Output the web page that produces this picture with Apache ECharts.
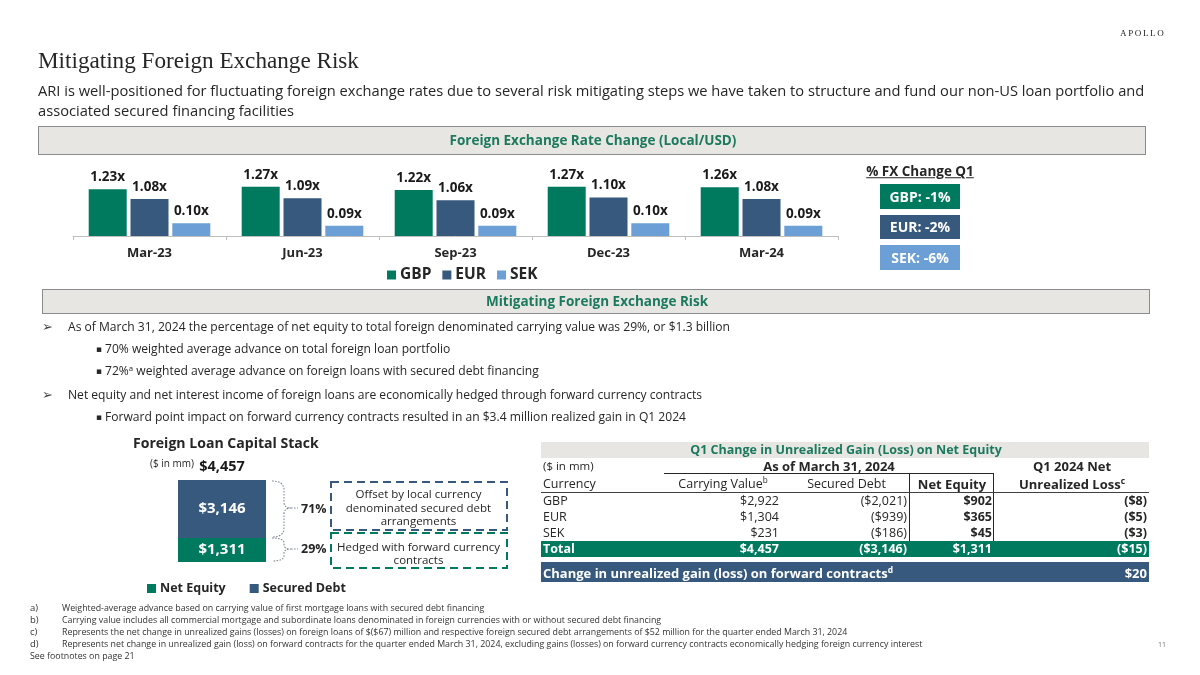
<!DOCTYPE html>
<html><head><meta charset="utf-8">
<script src="https://cdn.jsdelivr.net/npm/echarts@6.0.0/dist/echarts.min.js"></script>
<style>
html,body{margin:0;padding:0;background:#fff;}
#page{position:relative;width:1200px;height:675px;overflow:hidden;font-family:'Open Sans',sans-serif;color:#262626;}
#chart{position:absolute;left:0;top:0;width:1200px;height:675px;}
.t{position:absolute;white-space:nowrap;line-height:1.15;transform:translateY(-50%);}
.r{position:absolute;box-sizing:border-box;}
sup{font-size:65%;line-height:0;vertical-align:0.55em;}
</style>
</head><body>
<div id="page"><div id="chart"></div>
<svg id="ann" width="1200" height="675" style="position:absolute;left:0;top:0;pointer-events:none"></svg>
</div>
<script>
// ---------------- data ----------------
const quarters = ['Mar-23', 'Jun-23', 'Sep-23', 'Dec-23', 'Mar-24'];
const gbpRate = [1.23, 1.27, 1.22, 1.27, 1.26];
const eurRate = [1.08, 1.09, 1.06, 1.10, 1.08];
const sekRate = [0.10, 0.09, 0.09, 0.10, 0.09];
const fxCurrencies = ['GBP', 'EUR', 'SEK'];
const fxChangeQ1 = [-1, -2, -6];

const stackCategory = ['Foreign Loans'];
const netEquityStack = [1311];
const securedDebtStack = [3146];

const tableCurrencies = ['GBP', 'EUR', 'SEK'];
const carryingValue = [2922, 1304, 231];
const securedDebt = [-2021, -939, -186];
const netEquity = [902, 365, 45];
const unrealizedLoss = [-8, -5, -3];
const totalRow = [4457, -3146, 1311, -15];
const fwdContractChange = 20;

// ---------------- styles ----------------
const GREEN = '#007A5E', NAVY = '#36597D', LIGHT = '#6B9FD6', BAND = '#E8E6E3';
const page = document.getElementById('page');
const FONT = "'Open Sans', sans-serif";

function txt(s, x, y, o = {}) {
  const d = document.createElement('div'); d.className = 't'; d.innerHTML = s;
  const st = d.style; st.top = y + 'px';
  if (o.align === 'right') st.right = (1200 - x) + 'px';
  else if (o.align === 'center') { st.left = x + 'px'; st.transform = 'translate(-50%,-50%)'; }
  else st.left = x + 'px';
  if (o.size) st.fontSize = o.size + 'px';
  if (o.bold) st.fontWeight = 'bold';
  if (o.color) st.color = o.color;
  if (o.family) st.fontFamily = o.family;
  if (o.ls) st.letterSpacing = o.ls + 'px';
  if (o.underline) st.textDecoration = 'underline';
  if (o.w) d.dataset.w = o.w;
  if (o.ref) d.dataset.ref = o.ref;
  if (o.id) d.id = o.id;
  page.appendChild(d); return d;
}
function rect(x, y, w, h, bg, border) {
  const d = document.createElement('div'); d.className = 'r';
  Object.assign(d.style, { left: x + 'px', top: y + 'px', width: w + 'px', height: h + 'px', background: bg || 'transparent' });
  if (border) d.style.border = border;
  page.appendChild(d); return d;
}
function money(v) { const s = '$' + Math.abs(v).toLocaleString('en-US'); return v < 0 ? '(' + s + ')' : s; }

// ---------------- header ----------------
txt('APOLLO', 1120, 33, { size: 10.5, family: "'Liberation Serif', serif", ls: 1.6, w: 44 });
txt('Mitigating Foreign Exchange Risk', 38, 60, { size: 26, family: "'Liberation Serif', serif", w: 321 });
txt('ARI is well-positioned for fluctuating foreign exchange rates due to several risk mitigating steps we have taken to structure and fund our non-US loan portfolio and', 38, 90, { size: 16, w: 1107, id: 'sub1' });
txt('associated secured financing facilities', 38, 110, { size: 16, ref: 'sub1' });

rect(38, 126, 1108, 29, BAND, '1.5px solid #8C8C8C');
txt('Foreign Exchange Rate Change (Local/USD)', 593, 140.5, { align: 'center', size: 13.5, bold: true, color: '#1B7A5E' });

// FX change boxes
txt('% FX Change Q1', 920, 172, { align: 'center', size: 13.5, bold: true, underline: true });
const fxColors = [GREEN, NAVY, LIGHT];
fxCurrencies.forEach((c, i) => {
  const y = 184 + i * 30.5;
  rect(880, y, 80, 24.5, fxColors[i]);
  txt(c + ': ' + fxChangeQ1[i] + '%', 920, y + 12.5, { align: 'center', size: 14, bold: true, color: '#fff' });
});

// ---------------- mitigating section ----------------
rect(42, 289, 1108, 25, BAND, '1.5px solid #8C8C8C');
txt('Mitigating Foreign Exchange Risk', 597, 301.5, { align: 'center', size: 13.5, bold: true, color: '#1B7A5E' });

const ARW = "'DejaVu Sans', sans-serif";
txt('&#10146;', 42, 327, { size: 13, family: ARW, color: '#444' });
txt('As of March 31, 2024 the percentage of net equity to total foreign denominated carrying value was 29%, or $1.3 billion', 68, 327, { size: 13, w: 663, id: 'b1' });
txt('&#9642;', 96, 349, { size: 9, family: ARW });
txt('70% weighted average advance on total foreign loan portfolio', 105, 349, { size: 13, ref: 'b1' });
txt('&#9642;', 96, 371, { size: 9, family: ARW });
txt('72%<sup>a</sup> weighted average advance on foreign loans with secured debt financing', 105, 371, { size: 13, ref: 'b1' });
txt('&#10146;', 42, 395, { size: 13, family: ARW, color: '#444' });
txt('Net equity and net interest income of foreign loans are economically hedged through forward currency contracts', 68, 395, { size: 13, ref: 'b1' });
txt('&#9642;', 96, 417, { size: 9, family: ARW });
txt('Forward point impact on forward currency contracts resulted in an $3.4 million realized gain in Q1 2024', 105, 417, { size: 13, ref: 'b1' });

// ---------------- capital stack annotations ----------------
const stackTotal = netEquityStack[0] + securedDebtStack[0];
txt('Foreign Loan Capital Stack', 133, 443, { size: 16.5, bold: true, w: 186 });
txt('($ in mm)', 150, 463.5, { size: 10 });
const pctDebt = Math.round(securedDebtStack[0] / stackTotal * 100);
const pctEq = Math.round(netEquityStack[0] / stackTotal * 100);
txt(pctDebt + '%', 301, 509, { size: 12.5, bold: true });
txt(pctEq + '%', 301, 549, { size: 12.5, bold: true });
txt('Offset by local currency', 418.5, 494, { align: 'center', size: 11.5 });
txt('denominated secured debt', 418.5, 507.5, { align: 'center', size: 11.5 });
txt('arrangements', 418.5, 521, { align: 'center', size: 11.5 });
txt('Hedged with forward currency', 418.5, 546.5, { align: 'center', size: 11.5 });
txt('contracts', 418.5, 560, { align: 'center', size: 11.5 });

const svg = document.getElementById('ann');
svg.innerHTML =
  '<path d="M272,481 Q284,481 284,490 L284,502 Q284,508 291,508 Q284,508 284,514 L284,528 Q284,537 272,537 M291,508 L298,508" fill="none" stroke="#7F8A96" stroke-width="1.1" stroke-dasharray="1.6,1.4"/>' +
  '<path d="M272,538 Q284,538 284,543 L284,545 Q284,549 291,549 Q284,549 284,553 L284,556 Q284,561 272,561 M291,549 L298,549" fill="none" stroke="#7F8A96" stroke-width="1.1" stroke-dasharray="1.6,1.4"/>' +
  '<rect x="331" y="482" width="176" height="48" fill="none" stroke="' + NAVY + '" stroke-width="2" stroke-dasharray="8,5"/>' +
  '<rect x="331" y="533" width="176" height="35" fill="none" stroke="' + GREEN + '" stroke-width="2" stroke-dasharray="8,5"/>';

// ---------------- table ----------------
rect(541, 442, 608, 15.5, BAND);
txt('Q1 Change in Unrealized Gain (Loss) on Net Equity', 846, 449.5, { align: 'center', size: 12.5, bold: true, color: '#1B7A5E' });
txt('($ in mm)', 543, 466, { size: 11.5 });
txt('As of March 31, 2024', 829, 465.5, { align: 'center', size: 13, bold: true });
txt('Q1 2024 Net', 1072, 465.5, { align: 'center', size: 13, bold: true });
rect(664, 472.5, 330, 1.5, '#262626');
rect(908.5, 473, 1.3, 68, '#262626');
rect(993, 473, 1.3, 68, '#262626');
txt('Currency', 543, 484, { size: 12.5 });
txt('Carrying Value<sup>b</sup>', 723, 483.5, { align: 'center', size: 12.5 });
txt('Secured Debt', 846.5, 484, { align: 'center', size: 12.5 });
txt('Net Equity', 952, 483.5, { align: 'center', size: 13, bold: true });
txt('Unrealized Loss<sup>c</sup>', 1072, 483.5, { align: 'center', size: 13, bold: true });
rect(541, 491.5, 608, 1.2, '#404040');
const colR = [779, 907, 992, 1147];
tableCurrencies.forEach((c, i) => {
  const y = 501 + i * 16;
  txt(c, 543, y, { size: 12.5 });
  txt(money(carryingValue[i]), colR[0], y, { align: 'right', size: 12.5 });
  txt(money(securedDebt[i]), colR[1], y, { align: 'right', size: 12.5 });
  txt(money(netEquity[i]), colR[2], y, { align: 'right', size: 12.5, bold: true });
  txt(money(unrealizedLoss[i]), colR[3], y, { align: 'right', size: 12.5, bold: true });
});
rect(541, 541, 608, 15.5, GREEN);
txt('Total', 543, 548.5, { size: 12.5, bold: true, color: '#fff' });
totalRow.forEach((v, j) => txt(money(v), colR[j], 548.5, { align: 'right', size: 12.5, bold: true, color: '#fff' }));
rect(541, 562, 608, 20, NAVY);
txt('Change in unrealized gain (loss) on forward contracts<sup>d</sup>', 543, 572.5, { size: 13, bold: true, color: '#fff' });
txt(money(fwdContractChange), 1147, 572.5, { align: 'right', size: 13, bold: true, color: '#fff' });

// ---------------- footnotes ----------------
const fn = [
  ['a)', 'Weighted-average advance based on carrying value of first mortgage loans with secured debt financing'],
  ['b)', 'Carrying value includes all commercial mortgage and subordinate loans denominated in foreign currencies with or without secured debt financing'],
  ['c)', 'Represents the net change in unrealized gains (losses) on foreign loans of $($67) million and respective foreign secured debt arrangements of $52 million for the quarter ended March 31, 2024'],
  ['d)', 'Represents net change in unrealized gain (loss) on forward contracts for the quarter ended March 31, 2024, excluding gains (losses) on forward currency contracts economically hedging foreign currency interest']
];
fn.forEach((f, i) => {
  const y = 608 + i * 12;
  txt(f[0], 30, y, { size: 9.5, color: '#333' });
  if (i === 3) txt(f[1], 62, y, { size: 9.5, color: '#333', w: 861, id: 'fnd' });
  else txt(f[1], 62, y, { size: 9.5, color: '#333', ref: 'fnd' });
});
txt('See footnotes on page 21', 30, 656, { size: 9.5, color: '#333', ref: 'fnd' });
txt('11', 1158, 645, { size: 7, color: '#777' });

// ---------------- fit text widths ----------------
function fit() {
  document.querySelectorAll('[data-w]').forEach(el => {
    const target = +el.dataset.w;
    const w = el.getBoundingClientRect().width;
    const fs = parseFloat(getComputedStyle(el).fontSize);
    el.style.fontSize = (fs * target / w) + 'px';
  });
  document.querySelectorAll('[data-ref]').forEach(el => {
    const ref = document.getElementById(el.dataset.ref);
    el.style.fontSize = getComputedStyle(ref).fontSize;
  });
}
fit();

// ---------------- charts ----------------
const chart = echarts.init(document.getElementById('chart'), null, { renderer: 'canvas' });
const rateLabel = {
  show: true, position: 'top', distance: 5, color: '#1A1A1A', fontWeight: 'bold', fontSize: 13.5, fontFamily: FONT,
  formatter: p => p.value.toFixed(2) + 'x'
};
chart.setOption({
  animation: false,
  textStyle: { fontFamily: FONT },
  grid: [
    { left: 73, top: 172, width: 765, height: 64 },
    { left: 178, top: 480, width: 88, height: 82 }
  ],
  xAxis: [
    {
      type: 'category', gridIndex: 0, data: quarters,
      axisLine: { lineStyle: { color: '#BFBFBF', width: 1 } },
      axisTick: { show: true, length: 4, lineStyle: { color: '#BFBFBF' } },
      axisLabel: { color: '#262626', fontWeight: 'bold', fontSize: 13, margin: 11, fontFamily: FONT }
    },
    { type: 'category', gridIndex: 1, data: stackCategory, show: false }
  ],
  yAxis: [
    { type: 'value', gridIndex: 0, min: 0.5, max: 1.5, show: false, splitLine: { show: false } },
    { type: 'value', gridIndex: 0, min: 0.05, max: 0.30, show: false, splitLine: { show: false } },
    { type: 'value', gridIndex: 1, min: 0, max: stackTotal, show: false, splitLine: { show: false } }
  ],
  legend: [
    {
      data: ['GBP', 'EUR', 'SEK'], left: 382, top: 262, icon: 'rect', itemWidth: 9, itemHeight: 9, itemGap: 11,
      textStyle: { fontSize: 15.5, fontWeight: 'bold', color: '#262626', fontFamily: FONT, padding: [0, 0, 0, -1] }
    },
    {
      data: ['Net Equity', 'Secured Debt'], left: 142, top: 577, icon: 'rect', itemWidth: 9, itemHeight: 9, itemGap: 24,
      textStyle: { fontSize: 12.5, fontWeight: 'bold', color: '#262626', fontFamily: FONT, padding: [0, 0, 0, -1] }
    }
  ],
  series: [
    { name: 'GBP', type: 'bar', xAxisIndex: 0, yAxisIndex: 0, data: gbpRate, barWidth: 38, barGap: '10%', itemStyle: { color: GREEN }, label: rateLabel },
    { name: 'EUR', type: 'bar', xAxisIndex: 0, yAxisIndex: 0, data: eurRate, barWidth: 38, barGap: '10%', itemStyle: { color: NAVY }, label: rateLabel },
    { name: 'SEK', type: 'bar', xAxisIndex: 0, yAxisIndex: 1, data: sekRate, barWidth: 38, barGap: '10%', itemStyle: { color: LIGHT }, label: rateLabel },
    {
      name: 'Net Equity', type: 'bar', stack: 'cap', xAxisIndex: 1, yAxisIndex: 2, data: netEquityStack, barWidth: 88,
      itemStyle: { color: GREEN },
      label: { show: true, position: 'inside', color: '#fff', fontWeight: 'bold', fontSize: 15, fontFamily: FONT, formatter: p => money(p.value) }
    },
    {
      name: 'Secured Debt', type: 'bar', stack: 'cap', xAxisIndex: 1, yAxisIndex: 2, data: securedDebtStack, barWidth: 88,
      itemStyle: { color: NAVY },
      label: { show: true, position: 'inside', color: '#fff', fontWeight: 'bold', fontSize: 15, fontFamily: FONT, formatter: p => money(p.value) }
    },
    {
      name: 'Total', type: 'bar', xAxisIndex: 1, yAxisIndex: 2, barGap: '-100%', barWidth: 88, z: 0,
      data: netEquityStack.map((v, i) => v + securedDebtStack[i]),
      itemStyle: { color: 'rgba(0,0,0,0)' }, silent: true,
      label: { show: true, position: 'top', distance: 6, color: '#1A1A1A', fontWeight: 'bold', fontSize: 14.5, fontFamily: FONT, formatter: p => money(p.value) }
    }
  ]
});
</script>
</body></html>
